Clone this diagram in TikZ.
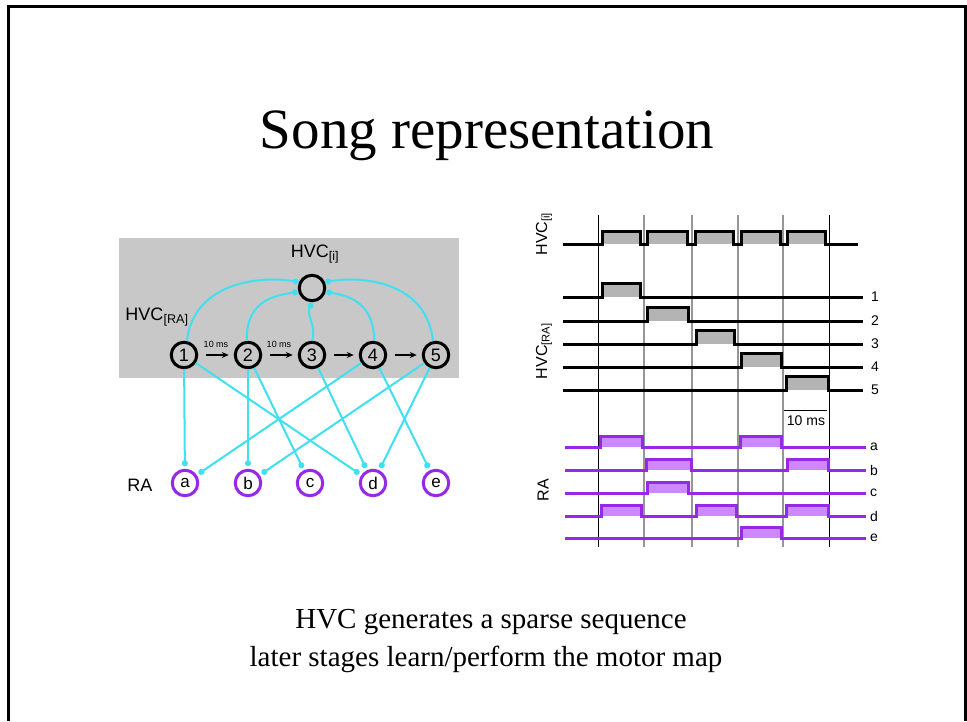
\documentclass[tikz,border=0pt]{standalone}
\usepackage{fontspec}
\setmainfont{Liberation Serif}
\newfontfamily\arial{Liberation Sans}
\usetikzlibrary{arrows.meta}
\definecolor{cy}{RGB}{64,224,240}
\definecolor{pu}{RGB}{150,40,230}
\definecolor{pufill}{RGB}{204,136,255}
\definecolor{boxgray}{RGB}{200,200,200}
\definecolor{pulsegray}{RGB}{180,180,180}
\definecolor{gridgray}{RGB}{150,150,150}
\newcommand{\sigtrace}[7]{%
  \foreach \pa/\pb in {#7} {\fill[#2] (\pa,#3) rectangle (\pb,#3-#4);}
  \draw[#1, line width=3pt, line join=miter] (#5,#3) \foreach \pa/\pb in {#7} { -- (\pa,#3) -- (\pa,#3-#4) -- (\pb,#3-#4) -- (\pb,#3) } -- (#6,#3);
}
\begin{document}
\begin{tikzpicture}[x=1pt,y=-1pt,
  hvc/.style={circle, draw=black, line width=3pt, minimum size=25.5pt, inner sep=0pt, font=\arial\fontsize{18}{18}\selectfont},
  ranode/.style={hvc, draw=pu, font=\arial\fontsize{17}{17}\selectfont},
  cyc/.style={draw=cy, line width=2pt, -{Circle[length=6pt]}, shorten >=0.5pt},
  cyd/.style={cyc, shorten >=2.5pt},
  seq/.style={line width=1.8pt, -{Stealth[length=7pt,width=6pt]}, shorten <=8pt, shorten >=5pt},
  lab/.style={font=\arial\fontsize{18}{18}\selectfont, inner sep=0pt},
  rlab/.style={font=\arial\fontsize{16}{16}\selectfont, inner sep=0pt, rotate=90},
  small/.style={font=\arial\fontsize{9}{9}\selectfont, inner sep=0pt},
  tlab/.style={font=\arial\fontsize{14}{14}\selectfont, inner sep=0pt, anchor=west},
  grid/.style={draw=gridgray, line width=1.3pt},
  gridb/.style={draw=black, line width=1pt}
]
\useasboundingbox (0,0) rectangle (967,721);
\fill[white] (0,0) rectangle (967,721);
\draw[line width=3pt] (8,721) -- (8,6) -- (965,6) -- (965,721);

% title and caption
\node[font=\fontsize{57}{60}\selectfont, anchor=base, inner sep=0pt] (title) at (487,148) {Song representation};
\node[font=\fontsize{29}{36}\selectfont, anchor=base, inner sep=0pt] (cap1) at (491,628) {HVC generates a sparse sequence};
\node[font=\fontsize{29}{36}\selectfont, anchor=base, inner sep=0pt] (cap2) at (486,666) {later stages learn/perform the motor map};

% left network
\fill[boxgray] (119,238) rectangle (459,378);
\node[hvc] (hi) at (312,288) {};
\node[lab] (hilab) at (315,254) {HVC\textsubscript{[i]}};
\node[lab] (hralab) at (157,317) {HVC\textsubscript{[RA]}};
\node[hvc] (n1) at (184,355) {1};
\node[hvc] (n2) at (248,355) {2};
\node[hvc] (n3) at (312,355) {3};
\node[hvc] (n4) at (373,355) {4};
\node[hvc] (n5) at (436,355) {5};
\node[lab] (ralab) at (140,485) {RA};
\node[ranode] (ra) at (185,483) {a};
\node[ranode] (rb) at (248,483) {b};
\node[ranode] (rc) at (310,483) {c};
\node[ranode] (rd) at (373,483) {d};
\node[ranode] (re) at (436,483) {e};

\draw[seq] (n1) -- (n2);
\draw[seq] (n2) -- (n3);
\draw[seq] (n3) -- (n4);
\draw[seq] (n4) -- (n5);
\node[small] (ms1) at (216,344) {10 ms};
\node[small] (ms2) at (279,344) {10 ms};

\draw[cyc] (n1.78) .. controls (193,285) and (255,275) .. (hi.155);
\draw[cyc] (n2.95) .. controls (246,305) and (268,296) .. (hi.196);
\draw[cyc] (n3.north) .. controls (317,326) and (306,316) .. (hi.south);
\draw[cyc] (n4.85) .. controls (374,305) and (352,296) .. (hi.344);
\draw[cyc] (n5.102) .. controls (427,285) and (369,275) .. (hi.25);

\draw[cyd] (n1) -- (ra);
\draw[cyd] (n1) -- (rd);
\draw[cyd] (n2) -- (rb);
\draw[cyd] (n2) -- (rc);
\draw[cyd] (n3) -- (rd);
\draw[cyd] (n4) -- (ra);
\draw[cyd] (n4) -- (re);
\draw[cyd] (n5) -- (rb);
\draw[cyd] (n5) -- (rd);

% timing diagram
\foreach \x in {644,692,738,783} \draw[grid] (\x,215) -- (\x,547);
\foreach \x in {598,829} \draw[gridb] (\x,215) -- (\x,547);

\sigtrace{black}{pulsegray}{244}{13}{563}{858}{602/640,647/687,695/733,741/780,787/825}
\sigtrace{black}{pulsegray}{297}{14}{563}{863}{602/640}
\sigtrace{black}{pulsegray}{321}{14}{563}{863}{647/688}
\sigtrace{black}{pulsegray}{344}{14}{563}{863}{696/734}
\sigtrace{black}{pulsegray}{367}{14}{563}{863}{741/781}
\sigtrace{black}{pulsegray}{390}{14}{563}{863}{786/828}

\sigtrace{pu}{pufill}{447}{11}{565}{866}{600/642,740/781}
\sigtrace{pu}{pufill}{470}{11}{565}{866}{646/691,787/828}
\sigtrace{pu}{pufill}{493}{11}{565}{866}{647/688}
\sigtrace{pu}{pufill}{516}{11}{565}{866}{601/641,696/736,786/828}
\sigtrace{pu}{pufill}{538}{11}{565}{866}{741/781}

\node[tlab] (k1) at (871,297) {1};
\node[tlab] (k2) at (871,321) {2};
\node[tlab] (k3) at (871,344) {3};
\node[tlab] (k4) at (871,367) {4};
\node[tlab] (k5) at (871,390) {5};
\node[tlab] (ka) at (870,447) {a};
\node[tlab] (kb) at (870,470) {b};
\node[tlab] (kc) at (870,493) {c};
\node[tlab] (kd) at (870,516) {d};
\node[tlab] (ke) at (870,538) {e};

\draw[line width=1pt] (784,410) -- (827,410);
\node[font=\arial\fontsize{14}{14}\selectfont, inner sep=0pt] (sb) at (806,421) {10 ms};

\node[rlab] (vi) at (544,234) {HVC\textsubscript{[i]}};
\node[rlab] (vra) at (544,351) {HVC\textsubscript{[RA]}};
\node[rlab] (vraa) at (543,490) {RA};
\end{tikzpicture}
\end{document}
